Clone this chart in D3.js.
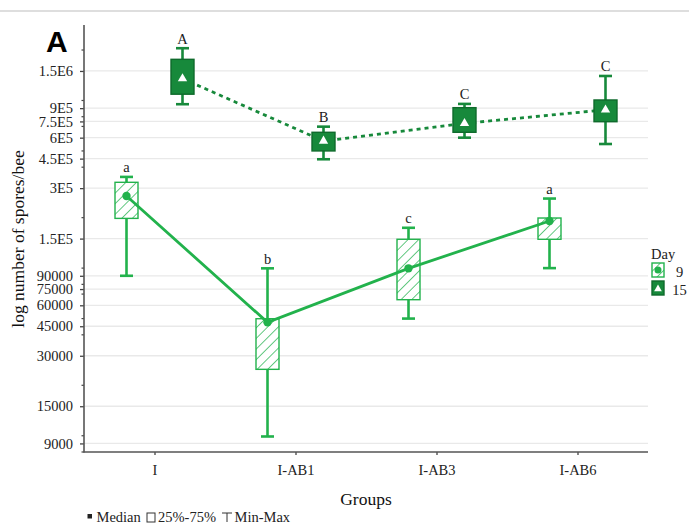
<!DOCTYPE html>
<html><head><meta charset="utf-8">
<script src="https://cdn.jsdelivr.net/npm/d3@7"></script>
<style>html,body{margin:0;padding:0;background:#fff;}svg{display:block;}</style>
</head><body>
<svg id="c" width="689" height="524"></svg>
<script>
const groups = ["I","I-AB1","I-AB3","I-AB6"];
const day9Min    = [90000, 9900, 50000, 100000];
const day9Q1     = [198000, 24900, 64800, 148600];
const day9Median = [269000, 47500, 99700, 191000];
const day9Q3     = [325000, 49900, 148600, 199000];
const day9Max    = [350000, 99700, 174000, 260000];
const day9Letters = ["a","b","c","a"];
const day15Min    = [950000, 446000, 600000, 550000];
const day15Q1     = [1090000, 500000, 646000, 747000];
const day15Median = [1350000, 573000, 730000, 880000];
const day15Q3     = [1760000, 646000, 906000, 1007000];
const day15Max    = [2050000, 698000, 954000, 1400000];
const day15Letters = ["A","B","C","C"];
const yTickValues = [9000,15000,30000,45000,60000,75000,90000,150000,300000,450000,600000,750000,900000,1500000];
const yTickLabels = ["9000","15000","30000","45000","60000","75000","90000","1.5E5","3E5","4.5E5","6E5","7.5E5","9E5","1.5E6"];
const legendDays = ["9","15"];

const light = "#22b24c", dark = "#17893b", darkStroke = "#0f6a2c";
const serif = "Liberation Serif, Times New Roman, serif";
const svg = d3.select("#c");
const L = 84, R = 648, T = 25, B = 452;
const x = d3.scalePoint().domain(groups).range([L, R]).padding(0.5);
const y = d3.scaleLog().domain([8000, 2.82e6]).range([B, T]);
const off = 28, bw = 23, cap = 13;

// hatch pattern
const defs = svg.append("defs");
const pat = defs.append("pattern").attr("id","hatch").attr("patternUnits","userSpaceOnUse")
  .attr("width",7.5).attr("height",7.5).attr("patternTransform","rotate(45)");
pat.append("rect").attr("width",7.5).attr("height",7.5).attr("fill","#fff");
pat.append("line").attr("x1",0).attr("y1",0).attr("x2",0).attr("y2",7.5).attr("stroke",light).attr("stroke-width",1.4);

// top separator line
svg.append("line").attr("x1",0).attr("x2",689).attr("y1",11).attr("y2",11).attr("stroke","#dedede").attr("stroke-width",2);

// grid
svg.append("g").selectAll("line").data(yTickValues).join("line")
  .attr("x1",L).attr("x2",R).attr("y1",d=>y(d)).attr("y2",d=>y(d))
  .attr("stroke","#e9e9e9").attr("stroke-width",1.3);

// y axis
const yAxis = d3.axisLeft(y).tickValues(yTickValues).tickFormat((d,i)=>yTickLabels[i]).tickSize(4).tickPadding(7);
const ya = svg.append("g").attr("transform",`translate(${L},0)`).call(yAxis);
ya.select(".domain").remove();
ya.selectAll(".tick line").attr("stroke","#444").attr("stroke-width",1.3);
ya.selectAll("text").attr("font-family",serif).attr("font-size","14.5px").attr("fill","#222");
const minor = y.ticks().filter(v => !yTickValues.includes(v));
svg.append("g").selectAll("line").data(minor).join("line")
  .attr("x1",L-2.5).attr("x2",L).attr("y1",d=>y(d)).attr("y2",d=>y(d)).attr("stroke","#444").attr("stroke-width",1.2);
svg.append("line").attr("x1",L).attr("x2",L).attr("y1",T).attr("y2",B+0.5).attr("stroke","#555").attr("stroke-width",1.6);

// x axis
const xAxis = d3.axisBottom(x).tickSize(3).tickPadding(10);
const xa = svg.append("g").attr("transform",`translate(0,${B})`).call(xAxis);
xa.select(".domain").remove();
xa.selectAll(".tick line").attr("stroke","#444").attr("stroke-width",1.3);
xa.selectAll("text").attr("font-family",serif).attr("font-size","14.5px").attr("fill","#222");
svg.append("line").attr("x1",L-0.5).attr("x2",R).attr("y1",B).attr("y2",B).attr("stroke","#555").attr("stroke-width",1.6);

// titles
svg.append("text").attr("x",366).attr("y",505).attr("text-anchor","middle").attr("font-family",serif).attr("font-size","17.5px").attr("fill","#111").text("Groups");
svg.append("text").attr("transform","translate(24,239) rotate(-90)").attr("text-anchor","middle").attr("font-family",serif).attr("font-size","17.5px").attr("fill","#111").text("log number of spores/bee");
svg.append("text").attr("x",46).attr("y",52).attr("font-family","Liberation Sans, Arial, sans-serif").attr("font-weight","bold").attr("font-size","30px").attr("fill","#000").text("A");

const idx = d3.range(groups.length);
function boxes(cls, dx, mins, q1, med, q3, maxs, color, fill, stroke, letters) {
  const g = svg.append("g").attr("class",cls);
  idx.forEach(i => {
    const cx = x(groups[i]) + dx;
    g.append("line").attr("x1",cx).attr("x2",cx).attr("y1",y(mins[i])).attr("y2",y(maxs[i])).attr("stroke",color).attr("stroke-width",2.6);
    [mins[i], maxs[i]].forEach(v => g.append("line").attr("x1",cx-cap/2).attr("x2",cx+cap/2).attr("y1",y(v)).attr("y2",y(v)).attr("stroke",color).attr("stroke-width",2.6));
    g.append("rect").attr("x",cx-bw/2).attr("y",y(q3[i])).attr("width",bw).attr("height",y(q1[i])-y(q3[i]))
      .attr("fill",fill).attr("stroke",stroke).attr("stroke-width",1.4);
    g.append("text").attr("x",cx).attr("y",y(maxs[i])-4.5).attr("text-anchor","middle")
      .attr("font-family",serif).attr("font-size","14.5px").attr("fill","#222").text(letters[i]);
  });
}
// day 9
boxes("d9", -off, day9Min, day9Q1, day9Median, day9Q3, day9Max, light, "url(#hatch)", light, day9Letters);
const line = d3.line().x(d=>d[0]).y(d=>d[1]);
svg.append("path").attr("d", line(idx.map(i=>[x(groups[i])-off, y(day9Median[i])])))
  .attr("fill","none").attr("stroke",light).attr("stroke-width",2.8);
svg.append("g").selectAll("circle").data(idx).join("circle")
  .attr("cx",i=>x(groups[i])-off).attr("cy",i=>y(day9Median[i])).attr("r",4.2).attr("fill",light);
// day 15
svg.append("path").attr("d", line(idx.map(i=>[x(groups[i])+off, y(day15Median[i])])))
  .attr("fill","none").attr("stroke",dark).attr("stroke-width",2.8).attr("stroke-dasharray","4,4");
boxes("d15", off, day15Min, day15Q1, day15Median, day15Q3, day15Max, dark, dark, darkStroke, day15Letters);
const tri = d3.symbol().type(d3.symbolTriangle).size(38);
svg.append("g").selectAll("path").data(idx).join("path")
  .attr("transform",i=>`translate(${x(groups[i])+off},${y(day15Median[i])})`).attr("d",tri()).attr("fill","#fff");

// legend Day
svg.append("text").attr("x",651).attr("y",259).attr("font-family",serif).attr("font-size","14.5px").attr("fill","#222").text("Day");
legendDays.forEach((d,i) => {
  const ly = 263 + i*18;
  svg.append("rect").attr("x",652).attr("y",ly).attr("width",12).attr("height",14)
    .attr("fill", i===0 ? "url(#hatch)" : dark).attr("stroke", i===0 ? light : darkStroke).attr("stroke-width",1.4);
  if (i===0) svg.append("circle").attr("cx",658).attr("cy",ly+7).attr("r",3.5).attr("fill",light);
  else svg.append("path").attr("transform",`translate(658,${ly+8})`).attr("d",d3.symbol().type(d3.symbolTriangle).size(26)()).attr("fill","#fff");
  svg.append("text").attr("x",679.5).attr("y",ly+13.5).attr("text-anchor","middle").attr("font-family",serif).attr("font-size","14.5px").attr("fill","#222").text(d);
});

// bottom legend
const bl = svg.append("g").attr("font-family",serif).attr("font-size","14.5px").attr("fill","#222");
bl.append("rect").attr("x",87.5).attr("y",514).attr("width",4.5).attr("height",4.5).attr("fill","#222");
bl.append("text").attr("x",96.5).attr("y",522).text("Median");
bl.append("rect").attr("x",147).attr("y",513).attr("width",8).attr("height",9).attr("fill","none").attr("stroke","#333").attr("stroke-width",1);
bl.append("text").attr("x",158).attr("y",522).text("25%-75%");
bl.append("line").attr("x1",222).attr("x2",232).attr("y1",513).attr("y2",513).attr("stroke","#333").attr("stroke-width",1);
bl.append("line").attr("x1",227).attr("x2",227).attr("y1",513).attr("y2",522).attr("stroke","#333").attr("stroke-width",1);
bl.append("text").attr("x",234.5).attr("y",522).text("Min-Max");
</script>
</body></html>
